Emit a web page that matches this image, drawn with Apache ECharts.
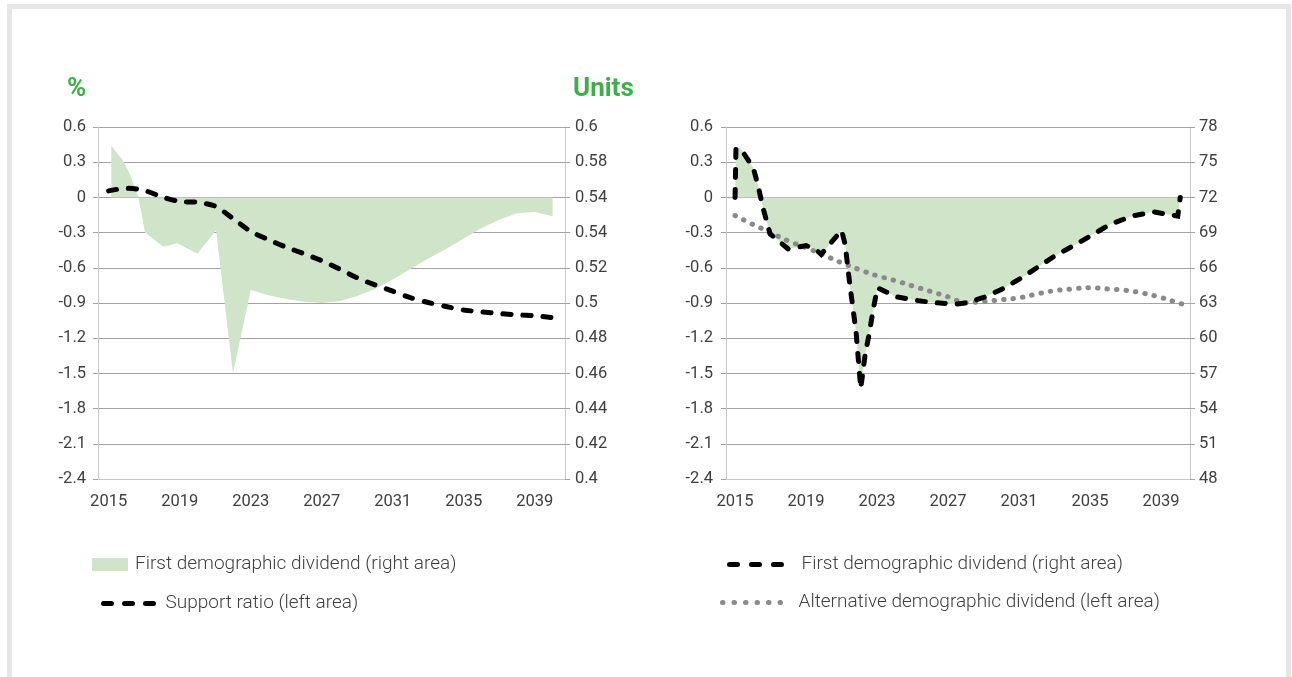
<!DOCTYPE html>
<html>
<head>
<meta charset="utf-8">
<script src="https://cdn.jsdelivr.net/npm/echarts@6/dist/echarts.min.js"></script>
<style>
  html, body { margin: 0; padding: 0; background: #fff; }
  #chart { width: 1292px; height: 677px; }
  #frame { position: absolute; left: 7px; top: 4px; width: 1274px; height: 700px;
           border: 5px solid #e6e6e6; border-bottom: none; pointer-events: none; }
</style>
</head>
<body>
<div id="chart"></div>
<div id="frame"></div>
<script>
// ---- Data ----
// Left panel: first demographic dividend (%), area
const leftAreaYears  = [2015.15, 2015.83, 2016.21, 2016.68, 2017.05, 2018.08, 2018.87, 2020.0, 2021.05, 2022.0,
                        2023, 2024, 2025, 2026, 2027, 2028, 2029, 2030, 2031, 2032, 2033, 2034, 2035, 2036, 2037, 2038, 2039, 2040];
const leftAreaValues = [0.44, 0.31, 0.19, 0, -0.30, -0.42, -0.39, -0.48, -0.28, -1.50,
                        -0.79, -0.835, -0.865, -0.89, -0.90, -0.885, -0.84, -0.78, -0.70, -0.61, -0.52, -0.44, -0.35, -0.26, -0.19, -0.135, -0.125, -0.16];
// Left panel: support ratio (units)
const supportYears  = [2015, 2016, 2017, 2018, 2019, 2020, 2021, 2022, 2023, 2024, 2025, 2026, 2027,
                       2028, 2029, 2030, 2031, 2032, 2033, 2034, 2035, 2036, 2037, 2038, 2039, 2040];
const supportValues = [0.5637, 0.5652, 0.564, 0.5603, 0.5577, 0.5572, 0.555, 0.548, 0.5407, 0.536, 0.5317, 0.528, 0.524,
                       0.5193, 0.5143, 0.5103, 0.5067, 0.503, 0.5003, 0.498, 0.496, 0.495, 0.494, 0.4933, 0.4927, 0.4917];
// Right panel: first demographic dividend (%)
const rightFirstYears  = [2015.0, 2015.05, 2015.3, 2016.03, 2016.31, 2016.56, 2016.97, 2018.0, 2019.0, 2019.55, 2019.85,
                          2021.0, 2021.2, 2021.48, 2021.82, 2022.08, 2022.32, 2022.57, 2022.79, 2023.02, 2023.13,
                          2024.1, 2025.33, 2026.0, 2027.4, 2028.0, 2029.0, 2030.0, 2031.2, 2032.1, 2033.0, 2034.2,
                          2035.0, 2036.13, 2037.35, 2038.57, 2039.94, 2040.08];
const rightFirstValues = [0, 0.41, 0.42, 0.25, 0.09, -0.08, -0.31, -0.44, -0.41, -0.445, -0.486,
                          -0.28, -0.40, -0.76, -1.15, -1.63, -1.35, -1.15, -0.95, -0.77, -0.78,
                          -0.848, -0.88, -0.894, -0.91, -0.90, -0.853, -0.786, -0.68, -0.59, -0.50, -0.40,
                          -0.33, -0.23, -0.16, -0.123, -0.16, 0];
// Right panel: alternative demographic dividend (units)
const altYears  = [2015, 2016, 2017, 2018, 2019, 2020, 2021, 2022, 2023, 2024, 2025, 2026, 2027,
                   2028, 2029, 2030, 2031, 2032, 2033, 2034, 2035, 2036, 2037, 2038, 2039, 2040, 2040.6];
const altValues = [70.45, 69.7, 69.0, 68.29, 67.71, 67.09, 66.43, 65.85, 65.32, 64.92, 64.45, 64.0, 63.53,
                   63.05, 63.12, 63.28, 63.44, 63.77, 64.05, 64.2, 64.3, 64.2, 64.08, 63.83, 63.47, 63.0, 62.73];

// Tick labels as printed
const yearTicks  = [2015, 2019, 2023, 2027, 2031, 2035, 2039];
const pctTicks   = ['-2.4', '-2.1', '-1.8', '-1.5', '-1.2', '-0.9', '-0.6', '-0.3', '0', '0.3', '0.6'];
const ratioTicks = ['0.4', '0.42', '0.44', '0.46', '0.48', '0.5', '0.52', '0.54', '0.54', '0.58', '0.6'];
const unitTicks  = ['48', '51', '54', '57', '60', '63', '66', '69', '72', '75', '78'];

const names = {
  firstLeft: 'First demographic dividend (right area)',
  support: 'Support ratio (left area)',
  firstRight: 'First demographic dividend (right area)',
  alt: 'Alternative demographic dividend (left area)'
};

// ---- Styles ----
const FONT = 'Roboto';
const TXT = '#404040';
const GREEN_FILL = '#cfe4c8';
const GRID_C = '#a3a3a3';
const AXIS_C = '#c8c8c8';

const zip = (xs, ys) => xs.map((x, i) => [x, ys[i]]);

function xAxisFor(gi, min, max) {
  return {
    type: 'value', gridIndex: gi, min: min, max: max,
    splitLine: { show: false },
    axisTick: { show: false },
    axisLine: { show: true, onZero: false, lineStyle: { color: AXIS_C, width: 1 } },
    axisLabel: { customValues: yearTicks, formatter: v => String(Math.round(v)), margin: 14,
                 color: TXT, fontSize: 16.5, fontFamily: FONT, fontWeight: 400 }
  };
}
function yAxisFor(gi, pos, min, max, interval, labels, split, margin) {
  return {
    type: 'value', gridIndex: gi, position: pos, min: min, max: max, interval: interval,
    axisLine: { show: true, onZero: false, lineStyle: { color: AXIS_C, width: 1 } },
    axisTick: { show: true, length: 5, lineStyle: { color: GRID_C } },
    splitLine: { show: split, lineStyle: { color: GRID_C, width: 1 } },
    axisLabel: { margin: margin, color: TXT, fontSize: 16.5, fontFamily: FONT, fontWeight: 400,
                 formatter: v => labels[Math.round((v - min) / interval)] }
  };
}

const legText = { color: TXT, fontSize: 19, fontFamily: FONT, fontWeight: 300 };
const hideSym = { opacity: 0 };

const option = {
  animation: false,
  backgroundColor: '#ffffff',
  title: [
    { text: '%', left: 67, top: 76, padding: 0,
      textStyle: { color: '#3dae49', fontSize: 26, fontWeight: 'bold', fontFamily: FONT } },
    { text: 'Units', left: 573, top: 76, padding: 0,
      textStyle: { color: '#3dae49', fontSize: 26, fontWeight: 'bold', fontFamily: FONT } }
  ],
  grid: [
    { left: 98, top: 127, width: 467, height: 352 },
    { left: 726, top: 127, width: 464, height: 352 }
  ],
  xAxis: [ xAxisFor(0, 2014.4, 2040.7), xAxisFor(1, 2014.49, 2040.63) ],
  yAxis: [
    yAxisFor(0, 'left', -2.4, 0.6, 0.3, pctTicks, true, 12),
    yAxisFor(0, 'right', 0.4, 0.6, 0.02, ratioTicks, false, 10),
    yAxisFor(1, 'left', -2.4, 0.6, 0.3, pctTicks, true, 13),
    yAxisFor(1, 'right', 48, 78, 3, unitTicks, false, 9)
  ],
  legend: [
    { left: 92, top: 555, padding: 0, itemWidth: 36, itemHeight: 13, selectedMode: false,
      data: [{ name: 'firstLeft', icon: 'rect' }],
      formatter: () => names.firstLeft,
      textStyle: Object.assign({ padding: [0, 0, 0, 2] }, legText) },
    { left: 101, top: 594, padding: 0, itemWidth: 57, itemHeight: 14, selectedMode: false,
      data: ['support'], formatter: () => names.support, itemStyle: hideSym,
      lineStyle: { width: 5, type: [8, 13], cap: 'round', color: '#000' },
      textStyle: Object.assign({ padding: [0, 0, 0, 0] }, legText) },
    { left: 727, top: 555, padding: 0, itemWidth: 60, itemHeight: 14, selectedMode: false,
      data: ['firstRight'], formatter: () => names.firstRight, itemStyle: hideSym,
      lineStyle: { width: 5, type: [8, 14], cap: 'round', color: '#000' },
      textStyle: Object.assign({ padding: [0, 0, 0, 7] }, legText) },
    { left: 720, top: 593, padding: 0, itemWidth: 66, itemHeight: 14, selectedMode: false,
      data: ['alt'], formatter: () => names.alt, itemStyle: hideSym,
      lineStyle: { width: 5, type: [0.5, 11], cap: 'round', color: '#8a8a8a' },
      textStyle: Object.assign({ padding: [0, 0, 0, 5] }, legText) }
  ],
  series: [
    { name: 'firstLeft', type: 'line', xAxisIndex: 0, yAxisIndex: 0,
      data: zip(leftAreaYears, leftAreaValues), symbol: 'none', smooth: false,
      color: GREEN_FILL, itemStyle: { color: GREEN_FILL },
      lineStyle: { width: 0, color: GREEN_FILL },
      areaStyle: { color: GREEN_FILL, opacity: 1, origin: 0 }, z: 1 },
    { name: 'support', type: 'line', xAxisIndex: 0, yAxisIndex: 1,
      data: zip(supportYears, supportValues), symbol: 'none', smooth: 0.3,
      color: '#000', lineStyle: { width: 5, color: '#000', type: [8, 12], cap: 'round' }, z: 3 },
    { name: 'firstRightArea', type: 'line', xAxisIndex: 1, yAxisIndex: 2,
      data: zip(rightFirstYears, rightFirstValues), symbol: 'none', smooth: false,
      color: GREEN_FILL, lineStyle: { width: 0 },
      areaStyle: { color: GREEN_FILL, opacity: 1, origin: 0 }, z: 1 },
    { name: 'alt', type: 'line', xAxisIndex: 1, yAxisIndex: 3,
      data: zip(altYears, altValues), symbol: 'none', smooth: 0.4,
      color: '#8a8a8a', lineStyle: { width: 5, color: '#8a8a8a', type: [0.5, 9], cap: 'round' }, z: 2 },
    { name: 'firstRight', type: 'line', xAxisIndex: 1, yAxisIndex: 2,
      data: zip(rightFirstYears, rightFirstValues), symbol: 'none', smooth: false,
      color: '#000', lineStyle: { width: 5, color: '#000', type: [8, 12], cap: 'round', join: 'miter' }, z: 3 }
  ]
};

const chart = echarts.init(document.getElementById('chart'), null, { renderer: 'canvas' });
chart.setOption(option);
</script>
</body>
</html>
